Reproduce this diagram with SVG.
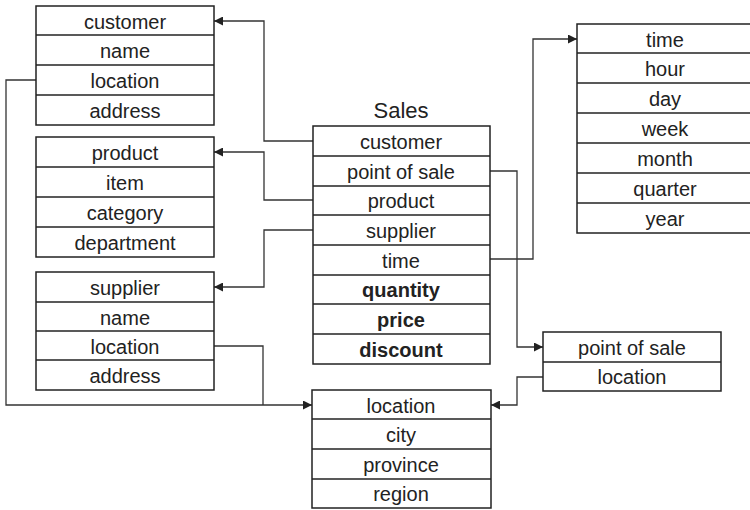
<svg xmlns="http://www.w3.org/2000/svg" width="750" height="510" viewBox="0 0 750 510">
<defs>
<style>
.box{fill:#fff;stroke:#222;stroke-width:1.5}
.sep{stroke:#222;stroke-width:1.5}
.t{font-family:"Liberation Sans",Arial,sans-serif;font-size:20px;fill:#222;text-anchor:middle}
.b{font-weight:bold}
.title{font-family:"Liberation Sans",Arial,sans-serif;font-size:22px;fill:#222;text-anchor:middle}
.c{fill:none;stroke:#333;stroke-width:1.3}
</style>
<marker id="ah" viewBox="0 0 10 10" refX="10" refY="5" markerWidth="10" markerHeight="9" markerUnits="userSpaceOnUse" orient="auto">
<path d="M0,0 L10,5 L0,10 Z" fill="#222"/>
</marker>
</defs>
<rect width="750" height="510" fill="#fff"/>

<g id="connectors">
<path class="c" d="M313,141 H264 V21 H214" marker-end="url(#ah)"/>
<path class="c" d="M313,200 H264 V152 H214" marker-end="url(#ah)"/>
<path class="c" d="M313,230 H264 V287 H214" marker-end="url(#ah)"/>
<path class="c" d="M490,171 H517 V347 H543" marker-end="url(#ah)"/>
<path class="c" d="M490,259 H533 V39 H577" marker-end="url(#ah)"/>
<path class="c" d="M36,80 H6 V405 H312" marker-end="url(#ah)"/>
<path class="c" d="M214,346 H263 V405"/>
<path class="c" d="M543,377 H517 V405 H491" marker-end="url(#ah)"/>
</g>

<g id="customer">
<rect class="box" x="36" y="6" width="178" height="119"/>
<line class="sep" x1="36" y1="35" x2="214" y2="35"/>
<line class="sep" x1="36" y1="65" x2="214" y2="65"/>
<line class="sep" x1="36" y1="95" x2="214" y2="95"/>
<text class="t" x="125" y="29">customer</text>
<text class="t" x="125" y="58">name</text>
<text class="t" x="125" y="88">location</text>
<text class="t" x="125" y="118">address</text>
</g>

<g id="product">
<rect class="box" x="36" y="137" width="178" height="120"/>
<line class="sep" x1="36" y1="167" x2="214" y2="167"/>
<line class="sep" x1="36" y1="197" x2="214" y2="197"/>
<line class="sep" x1="36" y1="227" x2="214" y2="227"/>
<text class="t" x="125" y="160">product</text>
<text class="t" x="125" y="190">item</text>
<text class="t" x="125" y="220">category</text>
<text class="t" x="125" y="250">department</text>
</g>

<g id="supplier">
<rect class="box" x="36" y="272" width="178" height="118"/>
<line class="sep" x1="36" y1="302" x2="214" y2="302"/>
<line class="sep" x1="36" y1="331" x2="214" y2="331"/>
<line class="sep" x1="36" y1="360" x2="214" y2="360"/>
<text class="t" x="125" y="295">supplier</text>
<text class="t" x="125" y="325">name</text>
<text class="t" x="125" y="354">location</text>
<text class="t" x="125" y="383">address</text>
</g>

<g id="sales">
<text class="title" x="401" y="118">Sales</text>
<rect class="box" x="313" y="126" width="177" height="238"/>
<line class="sep" x1="313" y1="156" x2="490" y2="156"/>
<line class="sep" x1="313" y1="186" x2="490" y2="186"/>
<line class="sep" x1="313" y1="215" x2="490" y2="215"/>
<line class="sep" x1="313" y1="245" x2="490" y2="245"/>
<line class="sep" x1="313" y1="275" x2="490" y2="275"/>
<line class="sep" x1="313" y1="304" x2="490" y2="304"/>
<line class="sep" x1="313" y1="334" x2="490" y2="334"/>
<text class="t" x="401" y="149">customer</text>
<text class="t" x="401" y="179">point of sale</text>
<text class="t" x="401" y="208">product</text>
<text class="t" x="401" y="238">supplier</text>
<text class="t" x="401" y="268">time</text>
<text class="t b" x="401" y="297">quantity</text>
<text class="t b" x="401" y="327">price</text>
<text class="t b" x="401" y="357">discount</text>
</g>

<g id="time">
<rect class="box" x="577" y="24" width="180" height="209"/>
<line class="sep" x1="577" y1="53" x2="757" y2="53"/>
<line class="sep" x1="577" y1="83" x2="757" y2="83"/>
<line class="sep" x1="577" y1="113" x2="757" y2="113"/>
<line class="sep" x1="577" y1="143" x2="757" y2="143"/>
<line class="sep" x1="577" y1="173" x2="757" y2="173"/>
<line class="sep" x1="577" y1="203" x2="757" y2="203"/>
<text class="t" x="665" y="47">time</text>
<text class="t" x="665" y="76">hour</text>
<text class="t" x="665" y="106">day</text>
<text class="t" x="665" y="136">week</text>
<text class="t" x="665" y="166">month</text>
<text class="t" x="665" y="196">quarter</text>
<text class="t" x="665" y="226">year</text>
</g>

<g id="pointofsale">
<rect class="box" x="543" y="332" width="178" height="59"/>
<line class="sep" x1="543" y1="362" x2="721" y2="362"/>
<text class="t" x="632" y="355">point of sale</text>
<text class="t" x="632" y="384">location</text>
</g>

<g id="location">
<rect class="box" x="312" y="390" width="179" height="118"/>
<line class="sep" x1="312" y1="419" x2="491" y2="419"/>
<line class="sep" x1="312" y1="449" x2="491" y2="449"/>
<line class="sep" x1="312" y1="479" x2="491" y2="479"/>
<text class="t" x="401" y="413">location</text>
<text class="t" x="401" y="442">city</text>
<text class="t" x="401" y="472">province</text>
<text class="t" x="401" y="501">region</text>
</g>
</svg>
